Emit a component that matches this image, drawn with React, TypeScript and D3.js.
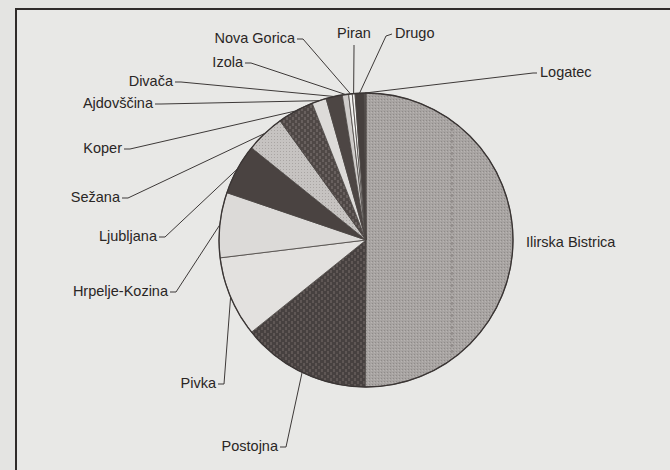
import React from "react";
import * as d3 from "d3";

// ---- data ----
const categories = [
  "Ilirska Bistrica",
  "Postojna",
  "Pivka",
  "Hrpelje-Kozina",
  "Ljubljana",
  "Sežana",
  "Koper",
  "Ajdovščina",
  "Divača",
  "Izola",
  "Nova Gorica",
  "Piran",
  "Drugo",
  "Logatec",
];
const shares = [50.4, 14.2, 8.9, 7.2, 5.6, 4.3, 4.0, 1.6, 1.8, 0.7, 0.4, 0.3, 1.0, 0.2];

// ---- style / layout ----
const W = 670;
const H = 470;
const CX = 366;
const CY = 240;
const R = 147;

const fills = [
  "url(#patGrey)",
  "url(#patCheck)",
  "#e3e1df",
  "#dcdad8",
  "#4a4341",
  "url(#patLight)",
  "url(#patCheck2)",
  "#dddbd9",
  "#4d4644",
  "#cfccca",
  "#f2f1ef",
  "#f4f3f1",
  "#46403e",
  "#5a5351",
];

type LabelLayout = {
  x: number;
  y: number;
  anchor: "start" | "end" | "middle";
  start?: [number, number];
  elbow?: [number, number];
};

const labelLayout: LabelLayout[] = [
  { x: 526, y: 243, anchor: "start" },
  { x: 278, y: 447, anchor: "end" },
  { x: 216, y: 384, anchor: "end" },
  { x: 168, y: 292, anchor: "end" },
  { x: 157, y: 237, anchor: "end" },
  { x: 120, y: 198, anchor: "end" },
  { x: 122, y: 149, anchor: "end" },
  { x: 153, y: 104, anchor: "end" },
  { x: 173, y: 82, anchor: "end" },
  { x: 243, y: 63, anchor: "end" },
  { x: 295, y: 39, anchor: "end" },
  { x: 354, y: 34, anchor: "middle", start: [354, 45], elbow: [354, 48] },
  { x: 395, y: 34, anchor: "start", start: [392, 34], elbow: [386, 36] },
  { x: 540, y: 73, anchor: "start", start: [537, 73], elbow: [533, 73] },
];

export default function App() {
  const pie = d3
    .pie<number>()
    .sort(null)
    .startAngle(0)
    .endAngle(2 * Math.PI);
  const arcs = pie(shares);
  const arc = d3.arc<d3.PieArcDatum<number>>().innerRadius(0).outerRadius(R);

  const edgePoint = (a: d3.PieArcDatum<number>): [number, number] => {
    const m = (a.startAngle + a.endAngle) / 2;
    return [CX + R * Math.sin(m), CY - R * Math.cos(m)];
  };

  const line = d3.line<[number, number]>();

  return (
    <svg
      width={W}
      height={H}
      style={{ position: "absolute", left: 0, top: 0, display: "block" }}
      fontFamily="'Liberation Sans', Arial, sans-serif"
    >
      <defs>
        <pattern id="patGrey" width="3" height="3" patternUnits="userSpaceOnUse">
          <rect width="3" height="3" fill="#a8a4a2" />
          <rect x="0" y="0" width="1" height="1" fill="#8f8b89" />
          <rect x="2" y="1" width="1" height="1" fill="#b8b4b2" />
        </pattern>
        <pattern id="patLight" width="3" height="3" patternUnits="userSpaceOnUse">
          <rect width="3" height="3" fill="#c6c3c1" />
          <rect x="1" y="1" width="1" height="1" fill="#a9a5a3" />
        </pattern>
        <pattern id="patCheck" width="6" height="6" patternUnits="userSpaceOnUse">
          <rect width="6" height="6" fill="#474140" />
          <rect x="0" y="0" width="2" height="3" fill="#5f5755" />
          <rect x="3" y="3" width="2" height="3" fill="#5f5755" />
        </pattern>
        <pattern id="patCheck2" width="6" height="6" patternUnits="userSpaceOnUse">
          <rect width="6" height="6" fill="#4f4846" />
          <rect x="1" y="0" width="2" height="3" fill="#68605e" />
          <rect x="4" y="3" width="2" height="3" fill="#68605e" />
        </pattern>
        <clipPath id="pieClip">
          <circle cx={CX} cy={CY} r={R - 2} />
        </clipPath>
      </defs>

      <rect x={0} y={0} width={W} height={H} fill="#e4e4e2" />
      <rect x={16} y={9} width={W} height={H} fill="#e8e8e6" stroke="#2f2b2a" strokeWidth={2} />

      <g transform={`translate(${CX},${CY})`}>
        {arcs.map((a, i) => (
          <path key={categories[i]} d={arc(a) || ""} fill={fills[i]} stroke="#4a4543" strokeWidth={0.8} />
        ))}
      </g>
      <line
        x1={452}
        y1={116}
        x2={452}
        y2={360}
        stroke="#5a5553"
        strokeWidth={1}
        strokeDasharray="3 3"
        opacity={0.55}
        clipPath="url(#pieClip)"
      />
      <circle cx={CX} cy={CY} r={R} fill="none" stroke="#3a3534" strokeWidth={1.3} />

      {arcs.map((a, i) => {
        const L = labelLayout[i];
        const end = edgePoint(a);
        let pts: [number, number][] | null = null;
        if (L.start && L.elbow) {
          pts = [L.start, L.elbow, end];
        } else if (L.anchor === "end") {
          pts = [
            [L.x + 2, L.y],
            [L.x + 8, L.y],
            end,
          ];
        }
        return (
          <g key={"lab" + i}>
            {pts && <path d={line(pts) || ""} fill="none" stroke="#3d3938" strokeWidth={1} />}
            <text
              x={L.x}
              y={L.y}
              textAnchor={L.anchor}
              dominantBaseline="middle"
              fontSize={14.5}
              fill="#2a2625"
            >
              {categories[i]}
            </text>
          </g>
        );
      })}
    </svg>
  );
}
